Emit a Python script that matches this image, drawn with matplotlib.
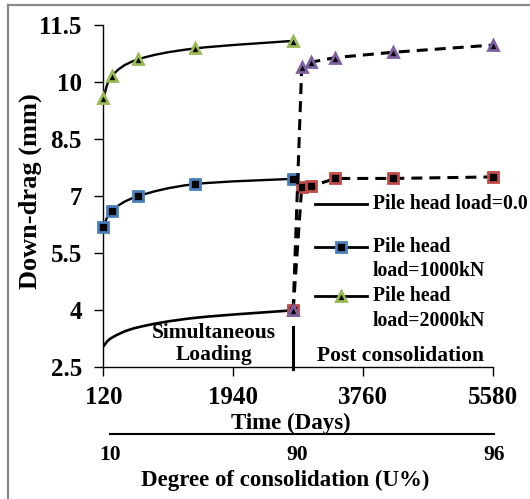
import numpy as np
import matplotlib
matplotlib.use("Agg")
import matplotlib.pyplot as plt
from matplotlib.path import Path
from matplotlib.patches import PathPatch
from matplotlib.lines import Line2D
from matplotlib.ticker import FormatStrFormatter

plt.rcParams['font.family'] = 'Liberation Serif'
plt.rcParams['font.weight'] = 'bold'

# simultaneous loading stage (time in days, down-drag in mm)
t_sim = [120, 240, 600, 1400, 2780]
drag_0kN = [3.05, 3.28, 3.55, 3.80, 4.00]
drag_1000kN = [6.20, 6.62, 7.00, 7.32, 7.46]
drag_2000kN = [9.58, 10.17, 10.60, 10.89, 11.09]

# post consolidation stage, starting from the end of the zero load curve
t_post = [2780, 2900, 3030, 3370, 4180, 5580]
post_1000kN = [4.00, 7.24, 7.26, 7.47, 7.47, 7.51]
post_2000kN = [4.00, 10.41, 10.53, 10.65, 10.79, 10.98]

t_split = 2780
x_ticks = [120, 1940, 3760, 5580]
y_ticks = [2.5, 4, 5.5, 7, 8.5, 10, 11.5]
u_ticks = [120, 2780, 5580]
u_labels = ['10', '90', '96']
legend_labels = ['Pile head load=0.0', 'Pile head\nload=1000kN', 'Pile head\nload=2000kN']

blue = '#4A7EBB'
green = '#98B954'
red = '#BE4B48'
purple = '#7D60A0'

W, H = 530, 499


def fx(px):
    return px / W


def fy(py):
    return 1 - py / H


def smooth_line(ax, x, y, **kw):
    # excel style smoothed line: catmull-rom segments as cubic beziers
    p = np.column_stack([x, y]).astype(float)
    verts = [p[0]]
    for i in range(len(p) - 1):
        a = p[max(i - 1, 0)]
        d = p[min(i + 2, len(p) - 1)]
        verts += [p[i] + (p[i + 1] - a) / 6, p[i + 1] - (d - p[i]) / 6, p[i + 1]]
    codes = [Path.MOVETO] + [Path.CURVE4] * (len(verts) - 1)
    ax.add_patch(PathPatch(Path(verts, codes), fill=False, capstyle='round', **kw))


fig = plt.figure(figsize=(W / 100, H / 100), dpi=100)
ax = fig.add_axes([fx(103.4), fy(367.3), fx(492.9) - fx(103.4), fy(25.3) - fy(367.3)])

sq = dict(marker='s', ms=6.5, mfc='black', mew=2.0, clip_on=False)
tri = dict(marker='^', ms=7.5, mfc='black', mew=2.0, clip_on=False)

smooth_line(ax, t_sim, drag_0kN, ec='black', lw=1.9, zorder=2)
smooth_line(ax, t_sim, drag_1000kN, ec='black', lw=1.7, zorder=2)
ax.plot(t_sim, drag_1000kN, ls='none', mec=blue, zorder=3, **sq)
smooth_line(ax, t_sim, drag_2000kN, ec='black', lw=1.7, zorder=2)
ax.plot(t_sim, drag_2000kN, ls='none', mec=green, zorder=3, **tri)

dash = (0, (3.6, 2.3))
ax.plot(t_post, post_1000kN, color='black', lw=2.2, ls=dash, mec=red, zorder=4, **sq)
ax.plot(t_post, post_2000kN, color='black', lw=2.2, ls=dash, mec=purple, zorder=5, **tri)

# divider between the two loading stages
ax.plot([t_split, t_split], [2.45, 3.55], color='black', lw=2.2, clip_on=False, zorder=2)
ax.text(1671, 3.12, 'Simultaneous\nLoading', ha='center', va='center', fontsize=15.5,
        linespacing=1.15)
ax.text(4287, 2.80, 'Post consolidation', ha='center', va='center', fontsize=15.5)

ax.set_xlim(120, 5580)
ax.set_ylim(2.5, 11.5)
ax.set_xticks(x_ticks)
ax.set_yticks(y_ticks)
ax.yaxis.set_major_formatter(FormatStrFormatter('%g'))
for s in ['top', 'right']:
    ax.spines[s].set_visible(False)
for s in ['left', 'bottom']:
    ax.spines[s].set_linewidth(1.0)
ax.tick_params(axis='both', direction='out', length=6.5, width=1.0, labelsize=18)
ax.tick_params(axis='y', pad=9)
ax.tick_params(axis='x', pad=7)

ax.set_xlabel('Time (Days)', fontsize=16.5, fontweight='bold')
ax.xaxis.set_label_coords(fx(290.7), fy(423.3), transform=fig.transFigure)
ax.xaxis.label.set_va('center')
ax.set_ylabel('Down-drag (mm)', fontsize=19, fontweight='bold')
ax.yaxis.set_label_coords(fx(30), fy(191), transform=fig.transFigure)
ax.yaxis.label.set_va('center')

# degree of consolidation scale under the time axis
ax2 = fig.add_axes([fx(110), fy(434.3), fx(494) - fx(110), 0.001])
ax2.set_xlim(120, 5580)
ax2.set_xticks(u_ticks)
ax2.set_xticklabels(u_labels)
ax2.set_yticks([])
for s in ['top', 'right', 'left']:
    ax2.spines[s].set_visible(False)
ax2.spines['bottom'].set_linewidth(1.5)
ax2.patch.set_visible(False)
ax2.tick_params(axis='x', length=0, labelsize=15.5, pad=8)
ax2.set_xlabel('Degree of consolidation (U%)', fontsize=16.5, fontweight='bold')
ax2.xaxis.set_label_coords(fx(284.8), fy(480), transform=fig.transFigure)
ax2.xaxis.label.set_va('center')

# legend drawn beside the curves
handles = [dict(marker=None, mec='none', ms=0), dict(marker='s', mec=blue, ms=6.5),
           dict(marker='^', mec=green, ms=7.5)]
rows = [204, 247, 296]
for lab, h, row in zip(legend_labels, handles, rows):
    fig.add_artist(Line2D([fx(315), fx(341), fx(367)], [fy(row)] * 3, color='black', lw=2,
                          marker=h['marker'], markevery=[1], ms=h['ms'],
                          mfc='black', mec=h['mec'], mew=2.0))
    for k, part in enumerate(lab.split('\n')):
        fig.text(fx(373), fy(row + 24.5 * k), part, fontsize=14.2, va='center', ha='left')

# chart area frame
frame = '#898989'
fig.add_artist(Line2D([fx(8.3), fx(8.3)], [fy(5), fy(H + 5)], color=frame, lw=1.6))
fig.add_artist(Line2D([fx(8.3), fx(W + 5)], [fy(5), fy(5)], color=frame, lw=1.6))

fig.savefig('out.png', dpi=100)
